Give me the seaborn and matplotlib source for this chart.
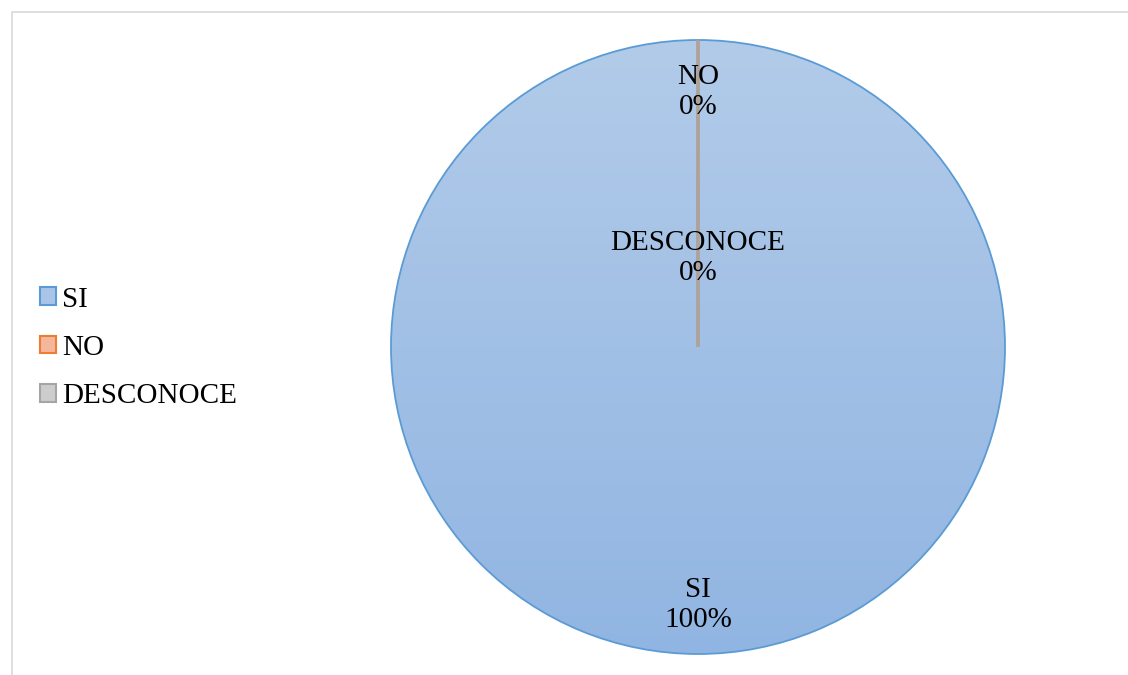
import numpy as np
import matplotlib
matplotlib.use("Agg")
import matplotlib.pyplot as plt
from matplotlib.patches import Patch, Rectangle
from matplotlib.colors import LinearSegmentedColormap
import seaborn as sns

# Survey answers and their shares
categories = ["SI", "NO", "DESCONOCE"]
values = [100, 0, 0]

sns.set_theme(style="white")
plt.rcParams["font.family"] = ["Liberation Serif", "DejaVu Serif"]
plt.rcParams["text.color"] = "black"

edge_colors = ["#5B9BD5", "#ED7D31", "#A5A5A5"]
face_colors = ["#A9C4E8", "#F5B79C", "#CDCDCD"]
palette = sns.color_palette(edge_colors)

W, H = 1128, 675
fig = plt.figure(figsize=(W / 100, H / 100), dpi=100)
fig.patch.set_facecolor("white")

# Pie axes: centre (698, 347) px, radius 307 px
cx, cy, r = 698, 347, 307
ax = fig.add_axes([(cx - r) / W, (H - cy - r) / H, 2 * r / W, 2 * r / H])

wedges, _ = ax.pie(values, startangle=90, counterclock=False, radius=1,
                   colors=["none"] * len(values),
                   wedgeprops=dict(linewidth=1.3))
ax.set_xlim(-1, 1)
ax.set_ylim(-1, 1)
ax.set_aspect("equal")
ax.axis("off")

for w, ec in zip(wedges, palette):
    w.set_edgecolor(ec)
wedges[1].set_linewidth(2.2)
wedges[2].set_linewidth(2.2)
wedges[0].set_zorder(3)
wedges[1].set_zorder(4)
wedges[2].set_zorder(5)

# Vertical gradient fill for the main slice
grad_cmap = LinearSegmentedColormap.from_list("blue_grad", ["#B2CBE9", "#91B5E2"])
grad = np.linspace(0, 1, 256).reshape(-1, 1)
img = ax.imshow(grad, extent=[-1, 1, -1, 1], origin="upper", cmap=grad_cmap,
                aspect="auto", zorder=2)
img.set_clip_path(wedges[0])

# Data labels
total = sum(values)
label_dist = [0.84, 0.83, 0.29]
for w, cat, val, d in zip(wedges, categories, values, label_dist):
    ang = np.deg2rad((w.theta1 + w.theta2) / 2)
    ax.text(d * np.cos(ang), d * np.sin(ang),
            f"{cat}\n{val / total * 100:.0f}%",
            ha="center", va="center", fontsize=21, color="black",
            linespacing=1.22, zorder=6)

# Legend on the left
handles = [Patch(facecolor=fc, edgecolor=ec, linewidth=1.5)
           for fc, ec in zip(face_colors, edge_colors)]
leg = fig.legend(handles, categories, loc="center left",
                 bbox_to_anchor=(40 / W, 1 - 348 / H), frameon=False,
                 fontsize=21, handlelength=0.55, handleheight=0.55,
                 handletextpad=0.2, labelspacing=0.77, borderpad=0,
                 borderaxespad=0)
for t in leg.get_texts():
    t.set_color("black")

# Light frame around the chart area
fig.patches.append(Rectangle((11.5 / W, -0.5), 2.0, 1.5 - 11.5 / H,
                             transform=fig.transFigure, fill=False,
                             edgecolor="#D9D9D9", linewidth=1.2))

fig.savefig("out.png", dpi=100, facecolor="white")
